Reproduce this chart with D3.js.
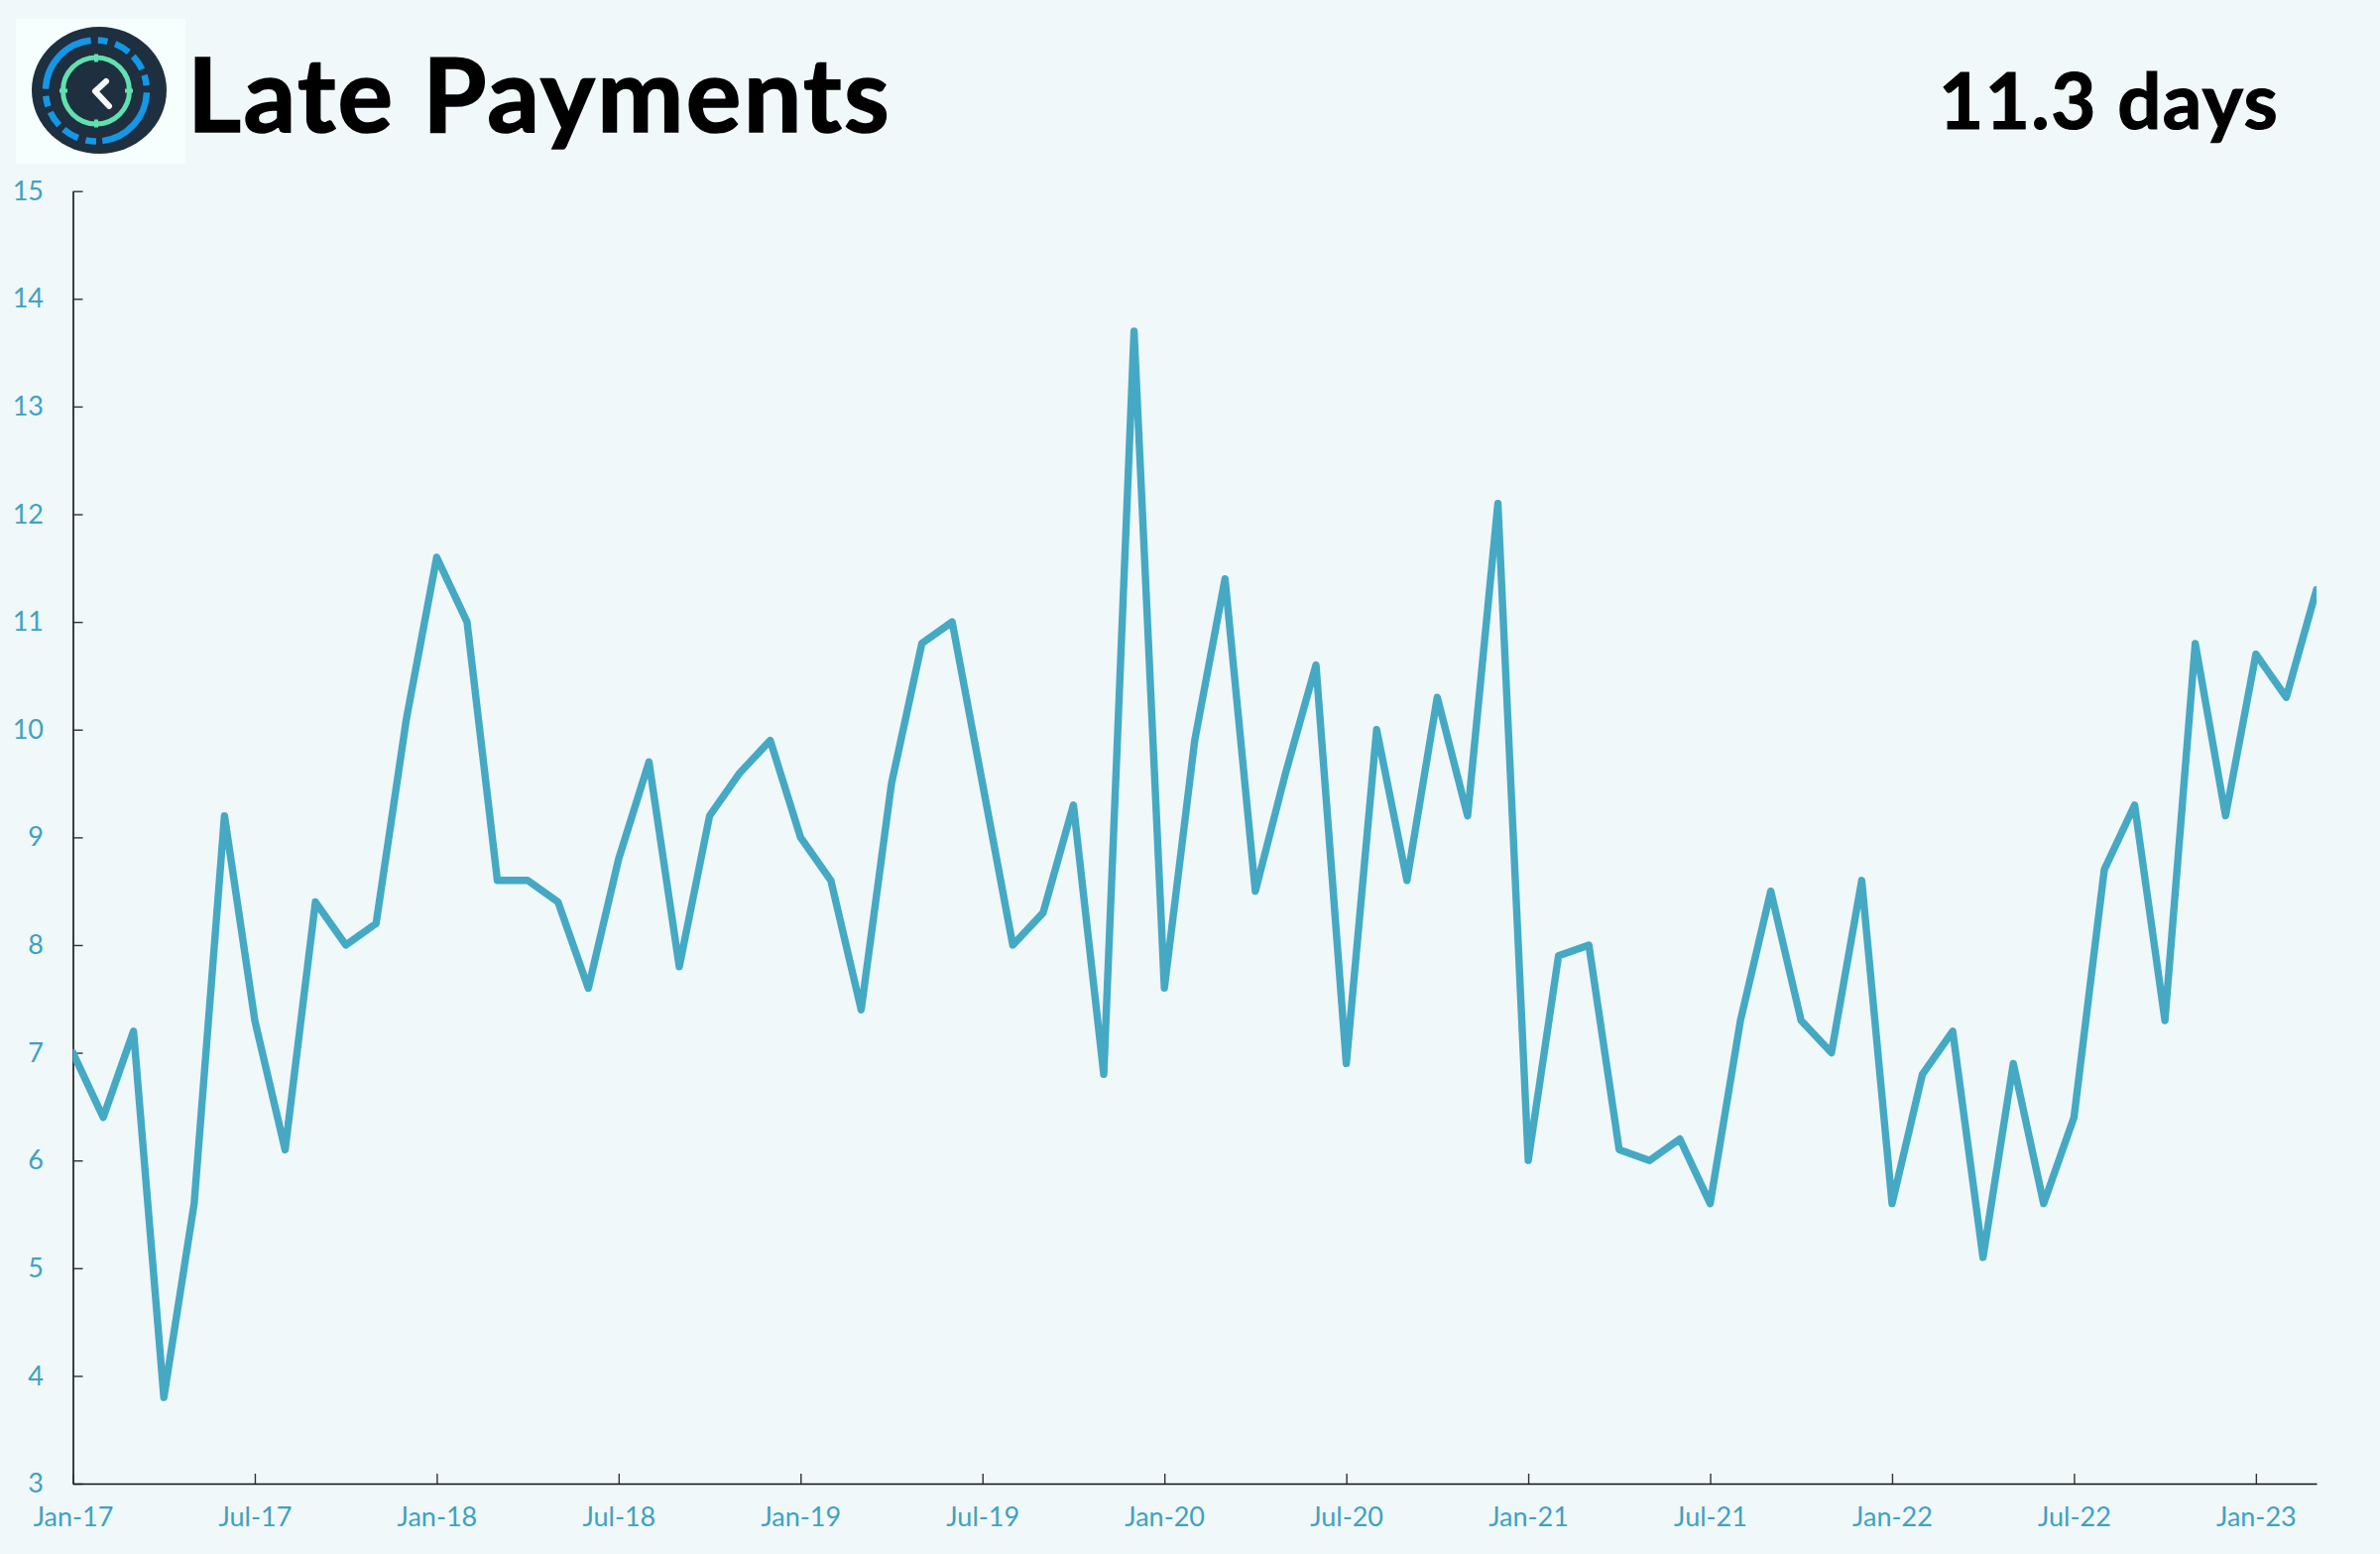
<!DOCTYPE html>
<html>
<head>
<meta charset="utf-8">
<script src="https://cdn.jsdelivr.net/npm/d3@7"></script>
<style>
html,body{margin:0;padding:0;background:#F0F8FA;}
svg{display:block;}
text{font-family:Lato,"Open Sans",sans-serif;}
</style>
</head>
<body>
<svg id="chart" width="2400" height="1567"></svg>
<script>
const titleText = "Late Payments";
const latestText = "11.3 days";
const yTicks = [3,4,5,6,7,8,9,10,11,12,13,14,15];
const months = [
"Jan-17","Feb-17","Mar-17","Apr-17","May-17","Jun-17","Jul-17","Aug-17","Sep-17","Oct-17","Nov-17","Dec-17",
"Jan-18","Feb-18","Mar-18","Apr-18","May-18","Jun-18","Jul-18","Aug-18","Sep-18","Oct-18","Nov-18","Dec-18",
"Jan-19","Feb-19","Mar-19","Apr-19","May-19","Jun-19","Jul-19","Aug-19","Sep-19","Oct-19","Nov-19","Dec-19",
"Jan-20","Feb-20","Mar-20","Apr-20","May-20","Jun-20","Jul-20","Aug-20","Sep-20","Oct-20","Nov-20","Dec-20",
"Jan-21","Feb-21","Mar-21","Apr-21","May-21","Jun-21","Jul-21","Aug-21","Sep-21","Oct-21","Nov-21","Dec-21",
"Jan-22","Feb-22","Mar-22","Apr-22","May-22","Jun-22","Jul-22","Aug-22","Sep-22","Oct-22","Nov-22","Dec-22",
"Jan-23","Feb-23","Mar-23"];
const xTickLabels = ["Jan-17","Jul-17","Jan-18","Jul-18","Jan-19","Jul-19","Jan-20","Jul-20","Jan-21","Jul-21","Jan-22","Jul-22","Jan-23"];
const lateDays = [
7.0,6.4,7.2,3.8,5.6,9.2,7.3,6.1,8.4,8.0,8.2,10.1,
11.6,11.0,8.6,8.6,8.4,7.6,8.8,9.7,7.8,9.2,9.6,9.9,
9.0,8.6,7.4,9.5,10.8,11.0,9.5,8.0,8.3,9.3,6.8,13.7,
7.6,9.9,11.4,8.5,9.6,10.6,6.9,10.0,8.6,10.3,9.2,12.1,
6.0,7.9,8.0,6.1,6.0,6.2,5.6,7.3,8.5,7.3,7.0,8.6,
5.6,6.8,7.2,5.1,6.9,5.6,6.4,8.7,9.3,7.3,10.8,9.2,
10.7,10.3,11.3];
// logo ring dashes, degrees clockwise from the top
const logoDashes = [[272,354],[2,13],[22,40],[47,65],[72,84],[92,173],[180,192],[201,220],[227,245],[252,264]];
const logoMarks = [0,90,180,270];

const svg = d3.select("#chart");
const lineColor = "#45A9C4", labelColor = "#3FA2BE";

svg.append("rect").attr("width",2400).attr("height",1567).attr("fill","#F0F8FA");

const x = d3.scalePoint().domain(months).range([73.5,2336]);
const y = d3.scaleLinear().domain([3,15]).range([1496,192.7]);

// logo
const logo = svg.append("g");
logo.append("rect").attr("x",16).attr("y",19).attr("width",171).attr("height",146).attr("fill","#F6FEFE");
logo.append("ellipse").attr("cx",100).attr("cy",91).attr("rx",68).attr("ry",64).attr("fill","#1E2F3F");
const ring = logo.append("g").attr("transform","translate(97,91.5)");
const arc = d3.arc().innerRadius(51).outerRadius(51);
ring.selectAll("path.dash").data(logoDashes).join("path").attr("class","dash")
  .attr("d",d=>arc({startAngle:d[0]*Math.PI/180,endAngle:(d[1]<d[0]?d[1]+360:d[1])*Math.PI/180}))
  .attr("fill","none").attr("stroke","#1497E6").attr("stroke-width",6.5).attr("stroke-linecap","round");
ring.append("circle").attr("r",33.5).attr("fill","none").attr("stroke","#62E0B0").attr("stroke-width",5);
ring.selectAll("line.mark").data(logoMarks).join("line").attr("class","mark")
  .attr("x1",d=>Math.sin(d*Math.PI/180)*29).attr("y1",d=>-Math.cos(d*Math.PI/180)*29)
  .attr("x2",d=>Math.sin(d*Math.PI/180)*37).attr("y2",d=>-Math.cos(d*Math.PI/180)*37)
  .attr("stroke","#62E0B0").attr("stroke-width",4);
logo.append("path").attr("d","M107,82L96,92L110,107").attr("fill","none").attr("stroke","#F4F8F8")
  .attr("stroke-width",6).attr("stroke-linecap","round").attr("stroke-linejoin","round");

// title
svg.append("text").attr("x",189).attr("y",133).attr("font-size",104).attr("font-weight",700)
  .attr("letter-spacing",2.4).attr("stroke","#000").attr("stroke-width",1.6)
  .attr("fill","#000").attr("id","title").text(titleText);
svg.append("text").attr("x",1955).attr("y",130).attr("font-size",78).attr("font-weight",700)
  .attr("letter-spacing",1.4).attr("stroke","#000").attr("stroke-width",1.2)
  .attr("fill","#000").attr("id","latest").text(latestText);

// axes
const yAxis = d3.axisLeft(y).tickValues(yTicks).tickSizeInner(-10).tickSizeOuter(0).tickPadding(29.5);
const gy = svg.append("g").attr("transform","translate(73.5,0)").call(yAxis);
const xAxis = d3.axisBottom(x).tickValues(xTickLabels).tickSizeInner(-10).tickSizeOuter(0).tickPadding(24);
const gx = svg.append("g").attr("transform","translate(0,1496)").call(xAxis);
for (const g of [gx,gy]) {
  g.select(".domain").attr("stroke","#111").attr("stroke-width",1.6);
  g.selectAll(".tick line").attr("stroke","#333").attr("stroke-width",1.4);
  g.selectAll(".tick text").attr("font-size",27).attr("fill",labelColor)
    .style("font-family","Lato,'Open Sans',sans-serif");
}

// series
svg.append("clipPath").attr("id","plot").append("rect")
  .attr("x",73.5).attr("y",150).attr("width",2336-73.5).attr("height",1400);
const line = d3.line().x((d,i)=>x(months[i])).y(d=>y(d));
svg.append("path").datum(lateDays).attr("d",line).attr("clip-path","url(#plot)")
  .attr("fill","none").attr("stroke",lineColor).attr("stroke-width",7.4)
  .attr("stroke-linejoin","round").attr("stroke-linecap","round");
</script>
</body>
</html>
